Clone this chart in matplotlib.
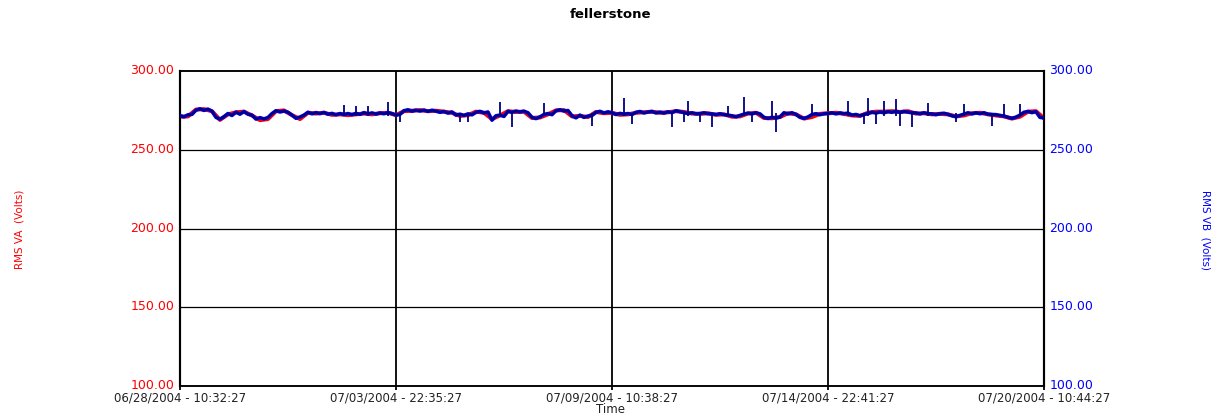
import numpy as np
import matplotlib
matplotlib.use("Agg")
import matplotlib.pyplot as plt
from matplotlib.transforms import ScaledTranslation

title = "fellerstone"
start_day = 0.0
end_day = 22.00833          # 06/28 10:32:27 -> 07/20 10:44:27
tick_days = [0.0, 5.50208, 11.00417, 16.50625, 22.00833]
tick_labels = ["06/28/2004 - 10:32:27", "07/03/2004 - 22:35:27",
               "07/09/2004 - 10:38:27", "07/14/2004 - 22:41:27",
               "07/20/2004 - 10:44:27"]
y_ticks = [100, 150, 200, 250, 300]

# RMS VB (Volts), evenly spaced in time
rms_vb = [
    271.7, 270.9, 272.2, 272.5, 275.2, 276.0, 275.0, 275.8, 274.5, 270.6,
    269.4, 271.0, 273.0, 271.8, 273.9, 272.6, 274.3, 272.6, 272.0, 269.5,
    270.4, 269.6, 270.5, 273.0, 274.8, 274.0, 274.6, 273.8, 272.0, 270.0,
    270.8, 272.0, 273.8, 272.9, 273.6, 273.0, 273.7, 272.6, 273.1, 272.2,
    273.0, 272.4, 273.0, 272.3, 273.1, 272.5, 273.6, 272.8, 273.4, 272.7,
    273.4, 272.9, 273.6, 273.0, 272.0, 272.5, 274.8, 275.4, 274.5, 275.1,
    274.6, 275.2, 274.4, 275.1, 274.5, 273.8, 274.3, 273.3, 274.0, 272.0,
    272.6, 271.8, 272.8, 272.2, 273.8, 274.4, 273.4, 274.0, 268.8, 271.6,
    272.0, 271.2, 274.4, 273.8, 274.6, 274.0, 274.5, 273.5, 270.6, 269.8,
    270.9, 272.4, 273.0, 272.3, 274.8, 275.4, 274.6, 274.9, 271.6, 270.3,
    272.0, 270.6, 271.4, 271.8, 273.8, 274.4, 273.4, 274.1, 273.5, 272.4,
    273.1, 272.6, 273.0, 272.4, 273.8, 274.3, 273.4, 274.0, 274.3, 273.4,
    273.9, 273.3, 274.1, 273.6, 274.8, 274.2, 273.6, 273.0, 273.5, 272.8,
    273.0, 273.5, 272.9, 272.8, 272.4, 272.9, 272.3, 272.0, 271.6, 270.9,
    271.8, 272.6, 273.3, 272.8, 273.5, 272.8, 270.6, 269.9, 270.6, 270.2,
    270.8, 273.5, 272.8, 273.5, 272.5, 270.6, 270.0, 270.8, 272.4, 272.9,
    272.3, 272.9, 273.0, 273.5, 272.8, 273.4, 272.9, 273.3, 272.0, 272.4,
    271.6, 272.4, 273.0, 273.9, 273.3, 274.0, 273.5, 274.2, 273.8, 274.4,
    273.7, 274.3, 273.9, 273.5, 273.4, 272.8, 273.5, 272.9, 272.8, 272.3,
    272.9, 273.2, 272.5, 271.6, 271.0, 271.8, 272.6, 273.5, 272.8, 273.5,
    272.9, 273.5, 272.6, 272.4, 272.3, 271.8, 271.4, 270.6, 270.0, 270.7,
    272.0, 273.8, 274.3, 273.6, 274.2, 270.6, 270.2,
]

# short spikes on RMS VB: time (days from start), low and high end (Volts)
spike_days = [4.18, 4.48, 4.79, 5.30, 5.60, 7.13, 7.34, 8.15, 8.46, 9.27,
              10.49, 11.31, 11.51, 12.53, 12.84, 12.94, 13.25, 13.55, 13.96, 14.37,
              14.57, 15.08, 15.18, 16.10, 17.02, 17.42, 17.53, 17.73, 17.93, 18.24,
              18.34, 18.65, 19.05, 19.77, 19.97, 20.68, 20.99, 21.40]
spike_lo = [271.5, 271.5, 271.5, 271.5, 267.4, 267.4, 267.4, 271.5, 264.2, 271.5,
            265.3, 271.5, 266.3, 264.2, 267.4, 271.5, 267.4, 264.2, 271.5, 271.5,
            267.4, 271.5, 261.1, 271.5, 271.5, 266.3, 271.5, 266.3, 271.5, 271.5,
            265.3, 264.2, 271.5, 267.4, 271.5, 265.3, 271.5, 271.5]
spike_hi = [278.5, 278.0, 277.5, 280.1, 273.5, 273.5, 273.5, 280.5, 273.5, 279.5,
            273.5, 282.6, 273.5, 273.5, 273.5, 281.2, 273.5, 273.5, 278.0, 283.3,
            273.5, 281.2, 273.5, 279.0, 281.2, 273.5, 282.6, 273.5, 281.2, 282.0,
            273.5, 273.5, 279.5, 273.5, 279.0, 273.5, 279.0, 279.0]

# RMS VA (Volts), mostly hidden under VB
rms_va = [
    271.0, 271.2, 275.5, 275.8, 274.5, 269.0, 272.5, 273.8, 274.2, 271.8,
    268.8, 269.5, 274.5, 275.0, 272.0, 269.5, 273.5, 273.0, 273.5, 272.2,
    272.5, 272.0, 272.5, 273.0, 272.5, 273.2, 273.5, 272.0, 274.5, 274.8,
    275.2, 274.5, 274.8, 274.2, 273.5, 271.5, 272.0, 274.2, 273.5, 269.5,
    271.8, 274.5, 274.0, 274.2, 270.2, 270.5, 272.5, 275.0, 275.2, 271.2,
    271.5, 270.8, 274.0, 273.2, 273.5, 272.2, 272.5, 273.5, 273.8, 274.2,
    273.5, 273.8, 274.5, 274.0, 273.0, 272.8, 273.2, 272.2, 272.5, 271.0,
    271.2, 273.0, 273.5, 270.2, 270.0, 270.8, 273.2, 272.5, 269.8, 270.8,
    272.8, 273.2, 273.5, 272.8, 271.8, 271.5, 273.5, 274.2, 274.2, 274.5,
    274.0, 274.5, 273.0, 273.2, 272.5, 272.8, 272.5, 271.2, 271.8, 273.2,
    273.5, 272.5, 271.8, 271.2, 269.8, 271.0, 274.2, 274.5, 270.0,
]

t_vb = np.linspace(start_day, end_day, len(rms_vb))
t_va = np.linspace(start_day, end_day, len(rms_va))

fig = plt.figure(figsize=(12.21, 4.14), dpi=100)
ax = fig.add_axes([0.1474, 0.0652, 0.7076, 0.7608])
ax2 = ax.twinx()

ax.plot(t_va, rms_va, color='red', lw=2.9, zorder=3)
ax2.plot(t_vb, rms_vb, color='blue', lw=2.6, zorder=3)
ax2.plot(t_vb, rms_vb, color='#000080', lw=1.6, zorder=4)
ax2.vlines(spike_days, spike_lo, spike_hi, color='#000080', lw=1.3, zorder=4)

for a in (ax, ax2):
    a.set_xlim(start_day, end_day)
    a.set_ylim(100, 300)
    a.set_yticks(y_ticks)

# grid lines
for y in y_ticks[1:-1]:
    ax.axhline(y, color='black', lw=0.9, zorder=1)
for x in tick_days[1:-1]:
    ax.axvline(x, color='black', lw=1.3, zorder=1)

ax.set_yticklabels(["%.2f" % v for v in y_ticks], color='red', fontsize=9)
ax2.set_yticklabels(["%.2f" % v for v in y_ticks], color='blue', fontsize=9)
ax.tick_params(axis='y', length=0, pad=4)
ax2.tick_params(axis='y', length=0, pad=4)

# nudge the y labels up a little so 100.00 clears the date labels
nudge = ScaledTranslation(0, 2.0 / 72, fig.dpi_scale_trans)
for lab in ax.get_yticklabels() + ax2.get_yticklabels():
    lab.set_transform(lab.get_transform() + nudge)

ax.set_xticks(tick_days)
ax.set_xticklabels(tick_labels, fontsize=8.5, color='#222222')
ax.tick_params(axis='x', length=3, width=1.3, direction='out', pad=0.5)
ax2.tick_params(axis='x', length=0)

for a in (ax, ax2):
    for side in ('left', 'right'):
        a.spines[side].set_linewidth(1.5)
    for side in ('top', 'bottom'):
        a.spines[side].set_linewidth(1.1)

fig.text(0.5, 0.965, title, ha='center', va='center', fontsize=9.5, fontweight='bold')
fig.text(0.5, 0.012, "Time", ha='center', va='center', fontsize=8.5, color='#222222')
fig.text(0.0156, 0.445, "RMS VA  (Volts)", rotation=90, ha='center', va='center',
         color='red', fontsize=7.5, family=['Liberation Sans Narrow', 'DejaVu Sans'])
fig.text(0.987, 0.445, "RMS VB  (Volts)", rotation=270, ha='center', va='center',
         color='blue', fontsize=7.5, family=['Liberation Sans Narrow', 'DejaVu Sans'])

fig.savefig("out.png", dpi=100)
